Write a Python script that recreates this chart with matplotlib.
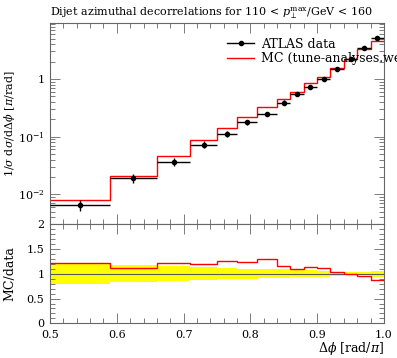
import numpy as np
import matplotlib
matplotlib.use("Agg")
import matplotlib.pyplot as plt
from matplotlib.lines import Line2D
from matplotlib.ticker import MultipleLocator, FixedLocator, LogLocator, NullFormatter

plt.rcParams['font.family'] = ['DejaVu Serif']
plt.rcParams['mathtext.fontset'] = 'dejavuserif'
plt.rcParams['font.size'] = 8

# bin edges in dphi [rad/pi]
edges = [0.5, 0.59, 0.66, 0.71, 0.75, 0.78, 0.81, 0.84, 0.86, 0.88,
         0.90, 0.92, 0.94, 0.96, 0.98, 1.0]
# ATLAS data, 1/sigma dsigma/ddphi
data = [0.0065, 0.019, 0.037, 0.073, 0.113, 0.177, 0.249, 0.39, 0.54,
        0.74, 0.98, 1.5, 2.24, 3.5, 5.2]
# relative data uncertainty
rel_err = [0.21, 0.17, 0.15, 0.13, 0.11, 0.10, 0.09, 0.09, 0.07, 0.07,
           0.06, 0.04, 0.03, 0.03, 0.06]
# MC prediction
mc = [0.0079, 0.0211, 0.0455, 0.087, 0.143, 0.221, 0.326, 0.456, 0.594,
      0.836, 1.088, 1.56, 2.22, 3.33, 4.58]

edges = np.array(edges)
data = np.array(data)
rel_err = np.array(rel_err)
mc = np.array(mc)
centers = 0.5 * (edges[:-1] + edges[1:])
halfw = 0.5 * np.diff(edges)

fig = plt.figure(figsize=(3.97, 3.58), dpi=100)
ax = fig.add_axes([0.126, 0.373, 0.841, 0.562])
rx = fig.add_axes([0.126, 0.097, 0.841, 0.276])

# main panel
ax.stairs(mc, edges, baseline=None, color='red', lw=1.0, zorder=2)
ax.errorbar(centers, data, xerr=halfw, yerr=data * rel_err, fmt='o', ms=3,
            color='black', ecolor='black', elinewidth=1.0, capsize=0, zorder=3)
ax.set_yscale('log')
ax.set_xlim(0.5, 1.0)
ax.set_ylim(3.0e-3, 9.25)
ax.set_ylabel(r'$1/\sigma\ \mathrm{d}\sigma/\mathrm{d}\Delta\phi$ [$\pi$/rad]',
              fontsize=8)
ax.yaxis.set_label_coords(-0.1, 0.5)
ax.set_title(r'Dijet azimuthal decorrelations for 110 < $p_{\perp}^{\max}$/GeV < 160',
             loc='left', fontsize=8, pad=5)
ax.yaxis.set_major_locator(FixedLocator([1e-2, 1e-1, 1]))
ax.yaxis.set_minor_locator(LogLocator(base=10, subs=np.arange(2, 10)))
ax.yaxis.set_minor_formatter(NullFormatter())
ax.set_yticklabels([r'$10^{-2}$', r'$10^{-1}$', '1'])
ax.xaxis.set_major_locator(MultipleLocator(0.1))
ax.xaxis.set_minor_locator(MultipleLocator(0.02))
ax.tick_params(labelbottom=False)

handles = [Line2D([], [], color='black', marker='o', ms=3, lw=1.0),
           Line2D([], [], color='red', lw=1.0)]
leg = ax.legend(handles, ['ATLAS data', 'MC (tune-analyses.weight'],
                loc='upper left', bbox_to_anchor=(0.515, 0.953), frameon=False,
                fontsize=9, handlelength=2.2, handletextpad=0.5,
                borderaxespad=0, labelspacing=0.12)

# ratio panel
rx.stairs(1 + rel_err, edges, baseline=1 - rel_err, fill=True,
          color='yellow', lw=0, zorder=1)
rx.axhline(1.0, color='0.35', lw=0.8, zorder=2)
rx.stairs(mc / data, edges, baseline=None, color='red', lw=1.0, zorder=3)
rx.set_xlim(0.5, 1.0)
rx.set_ylim(0, 2)
rx.set_ylabel('MC/data', fontsize=9)
rx.yaxis.set_label_coords(-0.1, 0.5)
rx.set_xlabel(r'$\Delta\phi$ [rad/$\pi$]', loc='right', fontsize=9)
rx.xaxis.set_label_coords(1.0, -0.17)
rx.xaxis.set_minor_locator(MultipleLocator(0.02))
rx.yaxis.set_minor_locator(MultipleLocator(0.1))
rx.set_yticks([0, 0.5, 1, 1.5, 2])
rx.set_yticklabels(['0', '0.5', '1', '1.5', '2'])
rx.set_xticks([0.5, 0.6, 0.7, 0.8, 0.9, 1.0])
rx.set_xticklabels(['0.5', '0.6', '0.7', '0.8', '0.9', '1.0'])

for a in (ax, rx):
    a.tick_params(which='both', direction='in', top=True, right=True,
                  color='0.4', width=0.6, labelsize=8)
    a.tick_params(which='major', length=7)
    a.tick_params(which='minor', length=3.5)
    a.tick_params(axis='x', pad=5)
    a.tick_params(axis='y', pad=4)
    for s in a.spines.values():
        s.set_color('0.4')
        s.set_linewidth(0.8)

fig.savefig('out.png', dpi=100)
